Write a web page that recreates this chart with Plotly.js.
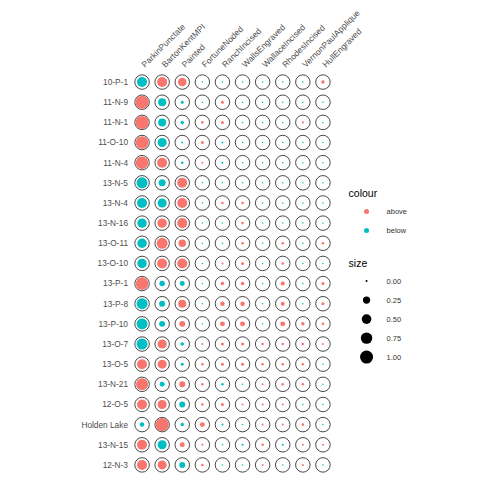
<!DOCTYPE html>
<html>
<head>
<meta charset="utf-8">
<script src="https://cdn.plot.ly/plotly-3.0.1.min.js"></script>
<style>html,body{margin:0;padding:0;background:#fff}#chart{width:480px;height:480px}</style>
</head>
<body>
<div id="chart"></div>
<script>
// Column categories (pottery types)
var types = ["ParkinPunctate","BartonKentMPI","Painted","FortuneNoded","RanchIncised",
             "WallsEngraved","WallaceIncised","RhodesIncised","VernonPaulApplique","HullEngraved"];
// Row categories (sites), top to bottom
var sites = ["10-P-1","11-N-9","11-N-1","11-O-10","11-N-4","13-N-5","13-N-4","13-N-16",
             "13-O-11","13-O-10","13-P-1","13-P-8","13-P-10","13-O-7","13-O-5","13-N-21",
             "12-O-5","Holden Lake","13-N-15","12-N-3"];
// Size values (0..1) per site row, in column order
var sizes = [
  [0.55,0.55,0.37,0,0,0,0,0,0,0.03],
  [1.00,0.32,0.017,0,0.017,0,0,0,0,0],
  [1.00,0.32,0.03,0.008,0.017,0,0,0,0.002,0],
  [0.92,0.43,0.002,0.017,0.002,0,0,0,0,0],
  [0.92,0.55,0.008,0.002,0.002,0,0,0,0,0],
  [0.68,0.23,0.55,0,0,0,0,0,0,0],
  [0.55,0.43,0.55,0,0.008,0.008,0,0,0,0],
  [0.48,0.48,0.55,0,0,0.008,0,0,0,0],
  [0.48,0.68,0.27,0,0,0.008,0,0.008,0,0.008],
  [0.48,0.55,0.55,0,0.002,0.017,0,0.008,0,0],
  [0.92,0.12,0.09,0,0.03,0.03,0,0.047,0,0.017],
  [0.68,0.15,0.32,0,0.068,0.068,0,0.047,0,0.017],
  [0.68,0.15,0.15,0,0.09,0.09,0,0.09,0.03,0.008],
  [0.68,0.43,0.03,0.002,0.017,0.017,0.008,0.008,0.008,0.002],
  [0.55,0.43,0.017,0.008,0.017,0.017,0.008,0.008,0.008,0],
  [0.83,0.09,0.15,0.008,0.008,0,0.002,0.008,0.008,0],
  [0.55,0.43,0.15,0.008,0.017,0.002,0.002,0.002,0,0],
  [0.068,1.00,0.03,0.09,0.002,0,0.002,0.002,0.008,0],
  [0.55,0.43,0.09,0.002,0,0.002,0.008,0.002,0.002,0.002],
  [0.55,0.43,0.15,0.008,0,0,0.002,0,0.002,0]
];
// Colour class per cell: a = above, b = below
var classes = [
  "baabbbbbba",
  "abbbabbbbb",
  "abbaabbbab",
  "abbabbbbbb",
  "aababbbbbb",
  "bbabbbbbbb",
  "bbabaabbbb",
  "baabbabbbb",
  "baabbababa",
  "baabaababb",
  "abbbaababa",
  "bbabaababa",
  "bbabaabaaa",
  "babaaaaaaa",
  "aabaaaaaab",
  "abaabbaaab",
  "aabaaaaabb",
  "bababbaaab",
  "abaabbabaa",
  "aababbabab"
];
var classNames = {a:"above", b:"below"};
var classColors = {a:"#F8766D", b:"#00BFC4"};
var sizeBreaks = [0, 0.25, 0.5, 0.75, 1.00];
var sizeBreakLabels = ["0.00","0.25","0.50","0.75","1.00"];

function diam(v){ return 1.5 + 11.5*Math.sqrt(v); }

var font = "Liberation Sans, Arial, sans-serif";
var traces = [];

// outline circles
var ox=[], oy=[];
sites.forEach(function(s){ types.forEach(function(t){ ox.push(t); oy.push(s); }); });
traces.push({type:"scatter", mode:"markers", x:ox, y:oy, showlegend:false, hoverinfo:"skip",
  marker:{symbol:"circle-open", size:14.5, color:"#1a1a1a", opacity:1, line:{width:0.8, color:"#1a1a1a"}}});

["a","b"].forEach(function(k){
  var x=[],y=[],sz=[];
  sites.forEach(function(s,i){
    types.forEach(function(t,j){
      if (classes[i][j]===k){ x.push(t); y.push(s); sz.push(diam(sizes[i][j])); }
    });
  });
  traces.push({type:"scatter", mode:"markers", x:x, y:y, showlegend:false, name:classNames[k],
    marker:{size:sz, color:classColors[k], opacity:1, line:{width:0}}});
});

// colour legend entries
["a","b"].forEach(function(k){
  traces.push({type:"scatter", mode:"markers", x:[null], y:[null], name:classNames[k],
    legend:"legend", marker:{size:5, color:classColors[k], opacity:1}});
});
// size legend entries
sizeBreaks.forEach(function(v,i){
  traces.push({type:"scatter", mode:"markers", x:[null], y:[null], name:sizeBreakLabels[i],
    legend:"legend2", marker:{size:diam(v), color:"#000", opacity:1}});
});

var layout = {
  width:480, height:480,
  margin:{l:132, r:147, t:72, b:5},
  paper_bgcolor:"#fff", plot_bgcolor:"#fff",
  font:{family:font, size:8, color:"#4d4d4d"},
  xaxis:{type:"category", categoryorder:"array", categoryarray:types, side:"top",
    tickangle:-45, showgrid:false, zeroline:false, showline:false, ticks:"",
    range:[-0.5, types.length-0.5], tickfont:{size:8.5, color:"#4d4d4d"}},
  yaxis:{type:"category", categoryorder:"array", categoryarray:sites.slice().reverse(),
    showgrid:false, zeroline:false, showline:false, ticks:"", ticklabelstandoff:3,
    range:[-0.5, sites.length-0.5], tickfont:{size:8.3, color:"#4d4d4d"}},
  legend:{xref:"container", yref:"container", x:0.722, y:0.618, xanchor:"left", yanchor:"top",
    title:{text:"colour", font:{size:10.5, color:"#000"}}, itemsizing:"trace",
    font:{size:7.5, color:"#333"}, bgcolor:"rgba(0,0,0,0)"},
  legend2:{xref:"container", yref:"container", x:0.722, y:0.473, xanchor:"left", yanchor:"top",
    title:{text:"size", font:{size:10.5, color:"#000"}}, itemsizing:"trace",
    font:{size:7.5, color:"#333"}, bgcolor:"rgba(0,0,0,0)"},
  showlegend:true
};

Plotly.newPlot("chart", traces, layout, {staticPlot:true});
</script>
</body>
</html>
